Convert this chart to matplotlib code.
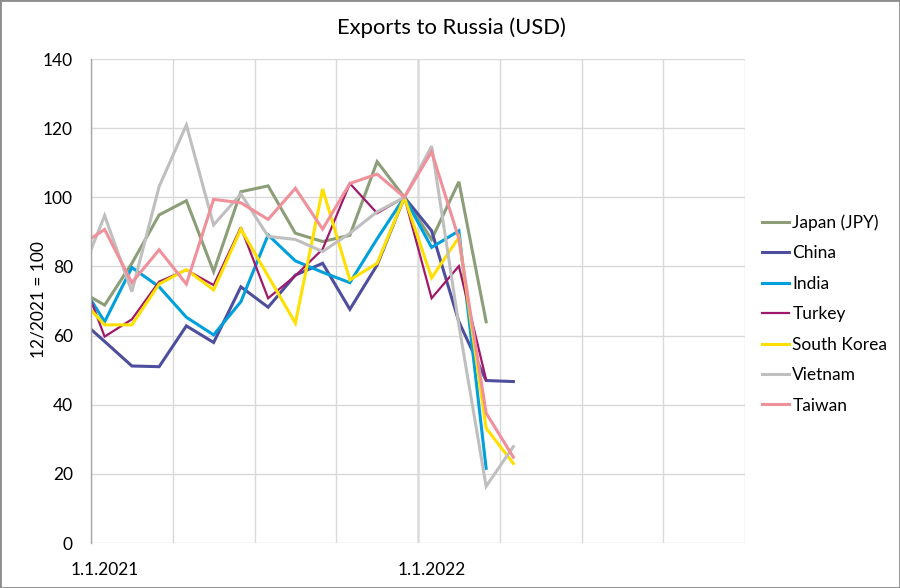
import numpy as np
import matplotlib
matplotlib.use("Agg")
import matplotlib.pyplot as plt
from matplotlib.patches import Rectangle

plt.rcParams['font.family'] = ['Lato', 'DejaVu Sans']

# Months from Dec 2020 to Apr 2022 (Dec 2020 lies left of the axis and is clipped)
months = ["12/2020", "1/2021", "2/2021", "3/2021", "4/2021", "5/2021", "6/2021",
          "7/2021", "8/2021", "9/2021", "10/2021", "11/2021", "12/2021",
          "1/2022", "2/2022", "3/2022", "4/2022"]
nan = np.nan
japan = [73.4, 68.8, 80.9, 94.9, 99.0, 78.5, 101.6, 103.3, 89.6, 87.2, 89.0, 110.3, 100, 87.8, 104.5, 64.0, nan]
china = [65.3, 58.3, 51.2, 51.0, 62.8, 58.0, 74.1, 68.2, 77.5, 80.9, 67.6, 80.4, 100, 90.3, 64.0, 47.0, 46.7]
india = [76.6, 64.0, 79.7, 74.1, 65.3, 60.2, 69.8, 89.1, 81.6, 78.3, 75.3, 88.0, 100, 85.5, 90.3, 21.6, nan]
turkey = [80.5, 59.7, 64.7, 75.6, 79.0, 74.6, 91.3, 70.8, 77.3, 85.0, 104.0, 95.4, 100, 70.8, 80.1, 47.2, nan]
korea = [71.7, 63.1, 63.1, 74.9, 79.1, 73.2, 90.8, 77.2, 63.6, 102.4, 76.1, 80.9, 100, 76.7, 88.4, 33.2, 23.0]
vietnam = [75.0, 94.7, 72.7, 103.1, 120.9, 92.0, 101.0, 88.7, 87.8, 84.3, 89.6, 95.8, 100, 114.8, 63.0, 16.4, 27.9]
taiwan = [85.5, 90.7, 75.3, 84.8, 74.9, 99.4, 98.4, 93.6, 102.6, 90.8, 104.0, 106.7, 100, 113.2, 88.0, 37.6, 24.8]

series = [
    ("Japan (JPY)", japan, "#8C9E78", 2.2),
    ("China", china, "#4E4E9E", 2.2),
    ("India", india, "#00A0DC", 2.2),
    ("Turkey", turkey, "#A0186A", 1.6),
    ("South Korea", korea, "#FFE000", 2.2),
    ("Vietnam", vietnam, "#BFBFBF", 2.2),
    ("Taiwan", taiwan, "#F0909A", 2.2),
]

xtick_labels = ["1.1.2021", "1.1.2022"]

fig = plt.figure(figsize=(9, 5.88), dpi=100)
ax = fig.add_axes([91/900, 45/588, (745-91)/900, (543-59)/588])

x = np.arange(len(months)) - 0.5  # mid-month positions, Jan 2021 = 0.5

for name, vals, col, lw in series:
    ax.plot(x, vals, color=col, lw=lw, label=name, solid_joinstyle='miter', clip_on=True)

ax.set_xlim(0, 24)
ax.set_ylim(0, 140)
ax.set_yticks(np.arange(0, 141, 20))
ax.set_xticks(np.arange(0, 25, 3), minor=False)
ax.set_xticklabels([])
ax.set_xticks([0.5, 12.5], minor=True)
ax.set_xticklabels(xtick_labels, minor=True)
ax.tick_params(axis='x', which='both', length=0, pad=14, labelsize=12.5)
ax.tick_params(axis='y', length=0, pad=13, labelsize=12.5)
ax.grid(True, which='major', color='#D9D9D9', lw=1)
ax.set_axisbelow(True)
ax.axvline(12, color='#8C8C8C', lw=1, zorder=0.5)
for s in ['top', 'right', 'bottom']:
    ax.spines[s].set_visible(False)
ax.spines['left'].set_color('#A6A6A6')
ax.spines['left'].set_linewidth(1)

fig.text(451/900, 1 - 28/588, "Exports to Russia (USD)", ha='center', va='center', fontsize=15.8)
fig.text(39/900, 1 - 300/588, "12/2021 = 100", rotation=90, ha='center', va='center', fontsize=12.5)

leg = fig.legend(loc='center left', bbox_to_anchor=(762/900, 1 - 314/588), frameon=False,
                 handlelength=1.55, handletextpad=0.2, labelspacing=0.83, borderpad=0,
                 borderaxespad=0, fontsize=12.5)

fig.patches.append(Rectangle((0, 0), 1, 1, transform=fig.transFigure, fill=False,
                             edgecolor='#8C8C8C', lw=2))

fig.savefig("out.png", dpi=100)
